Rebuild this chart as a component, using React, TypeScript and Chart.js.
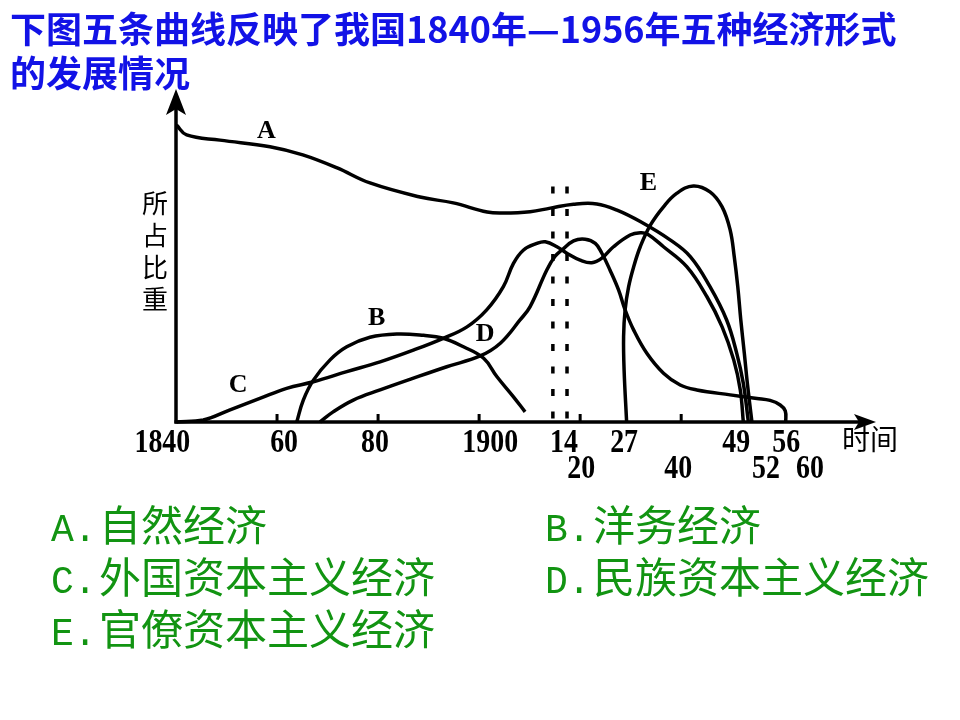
import React, { useEffect, useRef } from "react";
import { Chart, registerables } from "chart.js";

Chart.register(...registerables);

// ---------- text ----------
const titleLine1 = "下图五条曲线反映了我国1840年—1956年五种经济形式";
const titleLine2 = "的发展情况";
const yAxisTitle = ["所", "占", "比", "重"];
const xAxisTitle = "时间";
const legendKeys = ["A.", "B.", "C.", "D.", "E."];
const legendNames = ["自然经济", "洋务经济", "外国资本主义经济", "民族资本主义经济", "官僚资本主义经济"];

// ---------- curve A: 自然经济 ----------
const yearsA = [1840.1, 1842.1, 1848.7, 1858.6, 1865.1, 1871.9, 1878.4, 1888.3, 1894.9, 1901.6, 1904.8, 1910.1, 1914.1, 1918.7, 1923.3, 1927.3, 1931.9, 1937.8, 1941.8, 1945.7, 1949.0, 1951.0, 1952.3, 1953.3];
const shareA = [90.8, 87.8, 86.2, 84.2, 81.7, 77.7, 73.1, 68.8, 67.0, 64.2, 63.9, 64.3, 65.4, 66.6, 66.7, 64.8, 61.3, 55.7, 50.6, 41.4, 31.2, 21.0, 11.8, 0];

// ---------- curve B: 洋务经济 ----------
const yearsB = [1863.9, 1865.2, 1867.2, 1870.5, 1873.8, 1878.4, 1883.7, 1889.0, 1892.9, 1896.9, 1900.9, 1903.5, 1906.8, 1909.1];
const shareB = [0, 6.7, 12.8, 19.0, 23.0, 25.9, 26.9, 26.5, 25.6, 23.0, 19.5, 13.9, 7.7, 3.1];

// ---------- curve C: 外国资本主义经济 ----------
const yearsC = [1840.1, 1845.4, 1850.7, 1856.6, 1861.9, 1867.2, 1873.8, 1880.4, 1887.0, 1892.9, 1897.6, 1901.5, 1904.8, 1906.8, 1908.8, 1911.4, 1913.1, 1915.4, 1917.6, 1920.0, 1922.3, 1924.3, 1926.6, 1929.9, 1931.9, 1933.3, 1936.5, 1941.1, 1945.1, 1948.1, 1950.4, 1951.7, 1952.3];
const shareC = [0, 0.6, 3.7, 7.2, 10.3, 12.3, 15.4, 18.4, 22.0, 25.6, 29.1, 34.3, 41.4, 48.5, 52.6, 54.6, 55.1, 53.6, 51.4, 49.5, 48.7, 50.1, 53.6, 57.2, 57.9, 57.5, 53.6, 47.5, 38.3, 29.1, 19.0, 9.8, 0];

// ---------- curve D: 民族资本主义经济 ----------
const yearsD = [1868.5, 1871.1, 1875.1, 1880.4, 1887.0, 1893.6, 1900.2, 1904.2, 1908.1, 1910.1, 1913.4, 1915.0, 1916.4, 1918.7, 1921.0, 1923.0, 1924.3, 1925.9, 1927.6, 1928.9, 1930.6, 1933.2, 1936.5, 1939.8, 1943.1, 1949.7, 1955.0, 1957.6, 1959.6, 1960.6, 1960.7];
const shareD = [0, 3.1, 6.7, 9.8, 13.4, 16.9, 20.2, 24.1, 31.2, 35.3, 46.5, 50.6, 52.6, 55.4, 55.9, 54.6, 51.6, 46.5, 40.4, 34.3, 28.1, 21.0, 14.9, 11.3, 9.8, 8.3, 7.2, 6.6, 5.2, 3.4, 0];

// ---------- curve E: 官僚资本主义经济 ----------
const yearsE = [1929.2, 1928.7, 1928.6, 1928.9, 1929.6, 1930.6, 1931.9, 1933.9, 1936.5, 1939.1, 1942.4, 1945.7, 1948.1, 1949.7, 1950.5, 1951.2, 1951.8, 1952.5, 1953.1, 1954.0];
const shareE = [0, 15.9, 26.1, 34.3, 41.4, 47.5, 53.6, 60.2, 65.8, 69.9, 72.2, 70.4, 65.8, 58.7, 50.6, 41.4, 31.2, 21.0, 11.8, 0];

// ---------- dashed reference lines (1914, 1918) ----------
const dashYears = [1914.6, 1917.4];
const dashTop = 72;

// ---------- axis ticks and labels ----------
const axisTickYears = [1860, 1880, 1900, 1920, 1940];
const row1Labels = ["1840", "60", "80", "1900", "14", "27", "49", "56"];
const row1At = [1837.3, 1861.4, 1879.4, 1902.2, 1916.8, 1928.7, 1950.9, 1960.8];
const row2Labels = ["20", "40", "52", "60"];
const row2At = [1920.2, 1939.4, 1956.8, 1965.5];

// ---------- curve letters ----------
const letterYears = [1857.9, 1879.7, 1852.3, 1901.2, 1933.5];
const letterShares = [88.8, 31.7, 11.3, 26.9, 73.0];

const toPoints = (xs: number[], ys: number[]) => xs.map((x, i) => ({ x, y: ys[i] }));

const decoPlugin = {
  id: "deco",
  afterDatasetsDraw(chart: any) {
    const ctx: CanvasRenderingContext2D = chart.ctx;
    const xs = chart.scales.x;
    const ys = chart.scales.y;
    const area = chart.chartArea;
    const x0 = xs.getPixelForValue(1840);
    const y0 = ys.getPixelForValue(0);
    ctx.save();
    ctx.strokeStyle = "#000";
    ctx.fillStyle = "#000";
    ctx.lineWidth = 3.5;
    ctx.lineCap = "butt";

    // y axis with arrow
    const yTip = area.top - 6;
    ctx.beginPath();
    ctx.moveTo(x0, y0 + 1.5);
    ctx.lineTo(x0, yTip + 14);
    ctx.stroke();
    ctx.beginPath();
    ctx.moveTo(x0, yTip);
    ctx.lineTo(x0 + 10, yTip + 26);
    ctx.lineTo(x0, yTip + 20);
    ctx.lineTo(x0 - 10, yTip + 26);
    ctx.closePath();
    ctx.fill();

    // x axis with arrow
    const xTip = area.right + 18;
    ctx.beginPath();
    ctx.moveTo(x0 - 1.5, y0);
    ctx.lineTo(xTip - 12, y0);
    ctx.stroke();
    ctx.beginPath();
    ctx.moveTo(xTip, y0);
    ctx.lineTo(xTip - 22, y0 - 8);
    ctx.lineTo(xTip - 17, y0);
    ctx.lineTo(xTip - 22, y0 + 8);
    ctx.closePath();
    ctx.fill();

    // tick marks
    ctx.lineWidth = 3;
    axisTickYears.forEach((yr) => {
      const px = xs.getPixelForValue(yr);
      ctx.beginPath();
      ctx.moveTo(px, y0);
      ctx.lineTo(px, y0 - 8);
      ctx.stroke();
    });

    // tick labels (condensed serif digits)
    const drawDigits = (txt: string, cx: number, cy: number) => {
      ctx.save();
      ctx.translate(cx, cy);
      ctx.scale(0.82, 1);
      ctx.font = "bold 34px 'Liberation Serif'";
      ctx.textAlign = "center";
      ctx.textBaseline = "middle";
      ctx.fillText(txt, 0, 0);
      ctx.restore();
    };
    row1Labels.forEach((t, i) => drawDigits(t, xs.getPixelForValue(row1At[i]), y0 + 21));
    row2Labels.forEach((t, i) => drawDigits(t, xs.getPixelForValue(row2At[i]), y0 + 47));

    // axis titles
    ctx.font = "28px 'Noto Sans CJK SC'";
    ctx.textAlign = "left";
    ctx.textBaseline = "middle";
    ctx.fillText(xAxisTitle, area.right - 16, y0 + 17);
    ctx.font = "26px 'Noto Sans CJK SC'";
    ctx.textAlign = "center";
    yAxisTitle.forEach((c, i) => {
      ctx.fillText(c, x0 - 21, 203 + i * 32);
    });

    // curve letters
    ctx.font = "bold 26px 'Liberation Serif'";
    ctx.textAlign = "center";
    ctx.textBaseline = "middle";
    ["A", "B", "C", "D", "E"].forEach((l, i) => {
      ctx.fillText(l, xs.getPixelForValue(letterYears[i]), ys.getPixelForValue(letterShares[i]));
    });
    ctx.restore();
  },
};

export default function App() {
  const canvasRef = useRef<HTMLCanvasElement | null>(null);

  useEffect(() => {
    if (!canvasRef.current) return;
    const curve = (xs: number[], ys: number[]) => ({
      data: toPoints(xs, ys),
      borderColor: "#000",
      borderWidth: 3.5,
      tension: 0.4,
      fill: false,
      pointRadius: 0,
      clip: false as any,
    });
    const dashed = (x: number) => ({
      data: [
        { x, y: dashTop },
        { x, y: 0 },
      ],
      borderColor: "#000",
      borderWidth: 3.5,
      borderDash: [7, 15.5],
      tension: 0,
      fill: false,
      pointRadius: 0,
      clip: false as any,
    });
    const chart = new Chart(canvasRef.current, {
      type: "line",
      data: {
        datasets: [
          curve(yearsA, shareA),
          curve(yearsB, shareB),
          curve(yearsC, shareC),
          curve(yearsD, shareD),
          curve(yearsE, shareE),
          ...dashYears.map(dashed),
        ] as any,
      },
      options: {
        responsive: false,
        animation: false,
        devicePixelRatio: 1,
        layout: { padding: { left: 176, right: 102, top: 95, bottom: 298 } },
        scales: {
          x: { type: "linear", min: 1840, max: 1975, display: false },
          y: { type: "linear", min: 0, max: 100, display: false },
        },
        plugins: { legend: { display: false }, tooltip: { enabled: false } },
        elements: { point: { radius: 0 } },
      },
      plugins: [decoPlugin],
    });
    return () => chart.destroy();
  }, []);

  const green = "#129412";
  const legendPos = [
    [51, 497],
    [545, 497],
    [51, 549],
    [545, 549],
    [51, 601],
  ];

  return (
    <div style={{ position: "absolute", left: 0, top: 0, width: 960, height: 720, background: "#fff", overflow: "hidden" }}>
      <canvas ref={canvasRef} width={960} height={720} style={{ position: "absolute", left: 0, top: 0, width: 960, height: 720 }} />
      <div
        style={{
          position: "absolute",
          left: 10,
          top: 5,
          font: "bold 36px 'Noto Sans CJK SC'",
          lineHeight: "44px",
          color: "#1212e6",
          whiteSpace: "nowrap",
        }}
      >
        <div>{titleLine1}</div>
        <div>{titleLine2}</div>
      </div>
      {legendKeys.map((k, i) => (
        <div
          key={k}
          style={{
            position: "absolute",
            left: legendPos[i][0],
            top: legendPos[i][1],
            height: 52,
            font: "42px 'Noto Sans CJK SC'",
            lineHeight: "52px",
            color: green,
            whiteSpace: "nowrap",
          }}
        >
          <span style={{ display: "inline-block", width: 48, font: "38px 'Liberation Mono'" }}>{k}</span>
          <span>{legendNames[i]}</span>
        </div>
      ))}
    </div>
  );
}
